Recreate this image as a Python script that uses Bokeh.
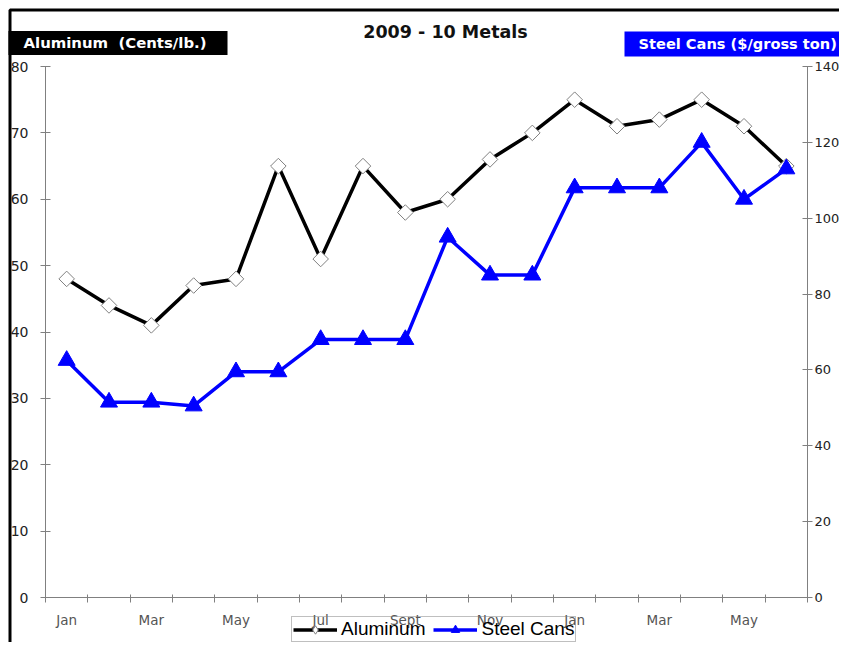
import numpy as np
from bokeh.plotting import figure
from bokeh.models import (Range1d, LinearAxis, FixedTicker, Label, Legend,
                          LegendItem, ColumnDataSource, BoxAnnotation)
from bokeh.embed import file_html
from bokeh.resources import INLINE

# ---- data ----
months = ["Jan", "Feb", "Mar", "Apr", "May", "Jun", "Jul", "Aug", "Sept",
          "Oct", "Nov", "Dec", "Jan", "Feb", "Mar", "Apr", "May", "Jun"]
aluminum = [48, 44, 41, 47, 48, 65, 51, 65, 58, 60, 66, 70, 75, 71, 72, 75, 71, 65]
steel = [62.5, 51.5, 51.5, 50.5, 59.5, 59.5, 68, 68, 68, 95, 85, 85,
         108, 108, 108, 120, 105, 113]
left_ticks = [0, 10, 20, 30, 40, 50, 60, 70, 80]
right_ticks = [0, 20, 40, 60, 80, 100, 120, 140]
title_text = "2009 - 10 Metals"
left_title = "Aluminum\u00a0 (Cents/lb.)"
right_title = "Steel Cans ($/gross ton)"

n = len(months)
x = [i + 0.5 for i in range(n)]
label_idx = list(range(0, n, 2))

# ---- layout (pixels) ----
W, H = 839, 642
FL, FR, FT, FB = 45, 807, 66, 597      # plotting area edges


def extend(lo, hi, px_lo, px_hi, total, flip=False):
    per = (hi - lo) / (px_hi - px_lo)
    if flip:
        return Range1d(lo - (total - px_hi) * per, hi + px_lo * per)
    return Range1d(lo - px_lo * per, hi + (total - px_hi) * per)


x_rng = extend(0, n, FL, FR, W)
yl_rng = extend(left_ticks[0], left_ticks[-1], FT, FB, H, flip=True)
yr_rng = extend(right_ticks[0], right_ticks[-1], FT, FB, H, flip=True)

FONT = "DejaVu Sans"
AXIS_GREY = "#808080"

p = figure(width=W, height=H, x_range=x_rng, y_range=yl_rng,
           x_axis_type=None, y_axis_type=None,
           output_backend="svg", toolbar_location=None,
           min_border=0, min_border_left=0, min_border_right=0,
           min_border_top=0, min_border_bottom=0)
p.extra_y_ranges = {"steel": yr_rng}
p.background_fill_color = "white"
p.border_fill_color = "white"
p.outline_line_color = None


def style_axis(ax, label_color, size, standoff):
    ax.axis_line_color = AXIS_GREY
    ax.major_tick_line_color = AXIS_GREY
    ax.minor_tick_line_color = None
    ax.major_tick_in = 5
    ax.major_tick_out = 5
    ax.major_label_standoff = standoff
    ax.major_label_text_font = FONT
    ax.major_label_text_font_size = size
    ax.major_label_text_color = label_color


ly = LinearAxis(fixed_location=0, bounds=(left_ticks[0], left_ticks[-1]),
                ticker=FixedTicker(ticks=left_ticks))
style_axis(ly, "#222222", "14px", 12)
p.add_layout(ly, "left")

ry = LinearAxis(fixed_location=n, y_range_name="steel",
                bounds=(right_ticks[0], right_ticks[-1]),
                ticker=FixedTicker(ticks=right_ticks))
style_axis(ry, "#222222", "13px", 2)
p.add_layout(ry, "right")

xa = LinearAxis(fixed_location=0, bounds=(0, n),
                ticker=FixedTicker(ticks=[x[i] for i in label_idx],
                                   minor_ticks=list(range(n + 1))))
style_axis(xa, "#555555", "13.5px", 9)
xa.major_label_overrides = {x[i]: months[i] for i in label_idx}
xa.major_tick_line_color = None
xa.major_tick_in = 0
xa.minor_tick_line_color = AXIS_GREY
xa.minor_tick_in = 3
xa.minor_tick_out = 5
p.add_layout(xa, "below")

src = ColumnDataSource(dict(x=x, aluminum=aluminum, steel=steel))

al_line = p.line("x", "aluminum", source=src, line_color="black", line_width=3.5)
al_pts = p.scatter("x", "aluminum", source=src, marker="square", size=11,
                   angle=np.pi / 4, fill_color="white", line_color="#808080",
                   line_width=1)
st_line = p.line("x", "steel", source=src, y_range_name="steel",
                 line_color="#0000FF", line_width=3.5)
st_pts = p.scatter("x", "steel", source=src, y_range_name="steel",
                   marker="triangle", size=17, fill_color="#0000FF",
                   line_color="#0000FF")
# hidden twin of the aluminum markers, used only for the legend swatch
al_key = p.scatter("x", "aluminum", source=src, marker="diamond", size=12,
                   fill_color="white", line_color="#808080", line_width=1,
                   visible=False)

legend = Legend(items=[LegendItem(label="Aluminum", renderers=[al_line, al_key]),
                       LegendItem(label="Steel Cans", renderers=[st_line, st_pts])],
                orientation="horizontal", location=(291, 0))
legend.margin = 0
legend.padding = 1
legend.spacing = 8
legend.glyph_width = 44
legend.glyph_height = 21
legend.label_standoff = 4
legend.label_text_font = "Liberation Sans"
legend.label_text_font_size = "19px"
legend.label_text_color = "black"
legend.border_line_color = "#808080"
legend.border_line_width = 1
legend.background_fill_alpha = 0
p.add_layout(legend)

p.add_layout(Label(x=445, y=H - 31, x_units="screen", y_units="screen",
                   text=title_text, text_align="center", text_baseline="middle",
                   text_font=FONT, text_font_size="17.5px", text_font_style="bold",
                   text_color="#111111"))
p.add_layout(Label(x=8, y=H - 42.5, x_units="screen", y_units="screen",
                   text=left_title, text_align="left", text_baseline="middle",
                   text_font=FONT, text_font_size="14.9px", text_font_style="bold",
                   text_color="white", background_fill_color="black",
                   padding=dict(left=15, right=21, top=3, bottom=3)))
p.add_layout(Label(x=624, y=H - 43.4, x_units="screen", y_units="screen",
                   text=right_title, text_align="left", text_baseline="middle",
                   text_font=FONT, text_font_size="14.6px", text_font_style="bold",
                   text_color="white", background_fill_color="#0000FF",
                   padding=dict(left=14, right=20, top=4, bottom=4)))

# outer black frame of the original picture (left and top edges)
p.add_layout(BoxAnnotation(left=9.5, right=W + 50, top=H - 9.5, bottom=-50,
                           left_units="screen", right_units="screen",
                           top_units="screen", bottom_units="screen",
                           fill_color=None, fill_alpha=0,
                           line_color="black", line_alpha=1, line_width=3))

open("out.html", "w").write(file_html(p, INLINE))
